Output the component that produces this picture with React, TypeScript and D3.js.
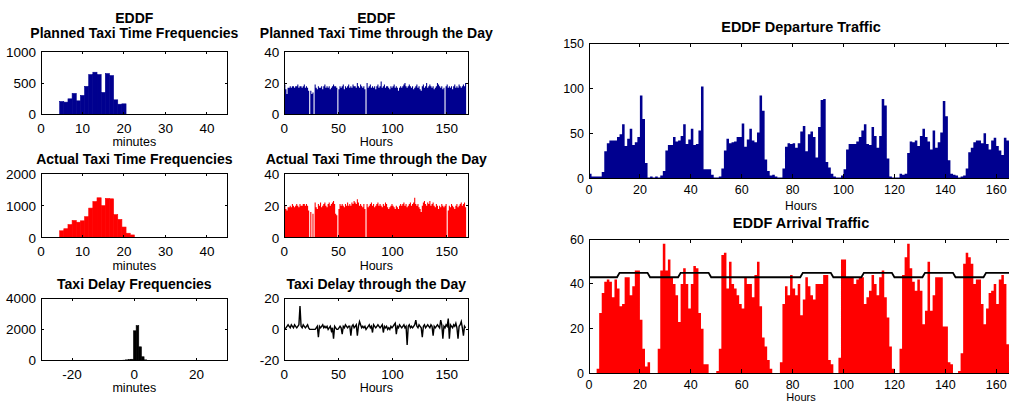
import React, { useRef, useEffect } from 'react';
import * as d3 from 'd3';

// ---------- data ----------
const plannedFreqBins = [5, 6, 7, 8, 9, 10, 11, 12, 13, 14, 15, 16, 17, 18, 19, 20];
const plannedFreq = [204, 194, 247, 333, 215, 301, 446, 634, 672, 634, 349, 650, 618, 231, 161, 167];

const actualFreqBins = [5, 6, 7, 8, 9, 10, 11, 12, 13, 14, 15, 16, 17, 18, 19, 20, 21, 22, 23];
const actualFreq = [215, 280, 409, 538, 484, 527, 656, 925, 1129, 1247, 1000, 1226, 1215, 720, 570, 333, 140, 86, 10];

const delayFreqBins = [-3.25, -2.4, -1.55, -0.7, 0.15, 1.0, 1.85, 2.7, 3.55, 4.4];
const delayFreq = [20, 40, 60, 80, 1910, 2240, 880, 240, 40, 10];

const plannedHourly = [
  19, 16, 13, 17, 17, 18, 17, 18, 18, 17, 18, 18, 19, 17, 18, 18, 17, 18, 19, 17, 18, 17, 15, 0,
  15, 13, 14, 0, 19, 17, 16, 18, 17, 17, 18, 16, 18, 19, 17, 18, 17, 18, 16, 17, 18, 19, 18, 18,
  17, 0, 16, 18, 17, 18, 19, 16, 18, 17, 18, 19, 17, 18, 17, 19, 18, 18, 17, 20, 18, 17, 19, 18,
  17, 18, 16, 0, 20, 17, 18, 19, 17, 18, 17, 18, 16, 18, 19, 17, 18, 21, 17, 18, 19, 17, 18, 18,
  17, 16, 18, 17, 18, 19, 17, 18, 17, 15, 17, 18, 17, 18, 19, 20, 18, 17, 18, 19, 18, 17, 18, 16,
  17, 18, 19, 17, 18, 16, 15, 18, 19, 17, 18, 20, 17, 18, 19, 18, 17, 18, 16, 17, 18, 20, 19, 18,
  17, 18, 16, 17, 0, 18, 19, 17, 18, 17, 18, 16, 18, 19, 17, 18, 17, 19, 18, 17, 18, 19, 18, 20,
];

const actualHourly = [
  20, 18, 17, 19, 19, 20, 19, 21, 20, 19, 20, 21, 20, 19, 21, 20, 20, 21, 21, 20, 21, 20, 17, 0,
  16, 0, 15, 0, 22, 19, 18, 21, 20, 22, 19, 20, 21, 22, 20, 19, 21, 22, 20, 21, 22, 23, 21, 15,
  14, 0, 18, 21, 20, 21, 20, 19, 21, 20, 22, 20, 21, 20, 22, 21, 23, 22, 21, 24, 22, 20, 21, 20,
  19, 21, 18, 0, 21, 19, 20, 21, 22, 20, 21, 19, 20, 21, 22, 20, 21, 20, 19, 21, 20, 22, 21, 19,
  18, 19, 20, 21, 20, 19, 18, 20, 19, 18, 20, 21, 20, 21, 22, 20, 21, 19, 20, 21, 22, 20, 21, 22,
  25, 21, 20, 21, 19, 18, 16, 20, 22, 23, 21, 20, 22, 21, 23, 20, 21, 22, 20, 19, 21, 20, 18, 20,
  19, 21, 20, 19, 20, 21, 0, 17, 20, 19, 21, 20, 19, 18, 20, 21, 19, 20, 21, 22, 20, 21, 22, 19,
];

const delayHourly = [
  0, 1, 2, 3, 2, 1, 3, 2, 1, 3, 2, 1, 2, 3, 15, 2, 1, 3, 2, 1, 2, 3, 1, 0,
  0, 0, 0, 0, 0, 1, 2, -5, 2, 1, 2, 3, 1, 2, 1, 2, 0, 1, 2, -1, 1, -6, 2, 1,
  0, 0, 1, 2, 1, -3, 2, 1, 3, 2, 1, 2, 2, -4, 2, 3, 1, 2, 3, -4, 2, 5, 3, 1,
  2, 1, 2, 0, 1, 2, 3, 1, 2, -2, 3, 2, 1, 2, 3, 2, 1, 2, 3, -2, 2, 1, 2, 0,
  1, 0, 2, 1, 2, 3, 4, -3, 2, 1, 3, 2, 1, 2, 3, 1, 2, -10, 2, 3, 1, 2, 1, 2,
  3, 6, 2, 1, 3, 2, 1, -5, 2, 3, 1, 2, 3, 2, 1, 3, 2, -4, 2, 1, 2, 3, 2, 1,
  6, 3, -6, 2, 1, 3, 2, 7, -6, 3, 2, 1, 3, 2, 4, 1, -6, 2, 3, 5, 1, -4, 2, 1,
];

const departures = [
  5, 2, 2, 2, 2, 7, 30, 39, 42, 42, 42, 46, 49, 60, 36, 44, 55, 37, 40, 46, 92, 66, 17, 1,
  2, 1, 2, 1, 3, 8, 31, 37, 37, 46, 41, 42, 47, 60, 38, 43, 55, 37, 38, 53, 102, 10, 10, 10,
  4, 1, 1, 2, 11, 31, 44, 39, 40, 41, 46, 46, 61, 35, 43, 55, 42, 40, 51, 92, 75, 21, 8, 3,
  4, 2, 1, 1, 11, 35, 39, 38, 39, 34, 39, 52, 58, 30, 49, 52, 46, 23, 57, 87, 88, 18, 12, 5,
  2, 1, 1, 3, 10, 32, 38, 38, 38, 41, 46, 53, 60, 38, 37, 57, 47, 34, 47, 88, 81, 22, 2, 1,
  1, 1, 5, 4, 5, 28, 41, 40, 42, 36, 47, 55, 46, 41, 32, 53, 34, 40, 51, 86, 69, 20, 5, 4,
  3, 1, 2, 3, 11, 29, 34, 40, 42, 42, 39, 50, 38, 32, 42, 45, 36, 31, 26, 45, 42, 40, 30, 12,
];

const arrivals = [
  0, 0, 0, 2, 27, 36, 41, 42, 41, 34, 42, 38, 30, 31, 43, 43, 35, 39, 46, 46, 24, 11, 3, 5,
  0, 0, 0, 11, 46, 58, 46, 51, 43, 40, 35, 23, 40, 47, 40, 29, 40, 48, 47, 27, 20, 4, 4, 0,
  0, 0, 1, 11, 53, 54, 38, 50, 40, 38, 35, 31, 29, 43, 40, 40, 34, 44, 50, 30, 16, 12, 6, 2,
  0, 0, 0, 5, 31, 39, 35, 44, 38, 35, 40, 26, 33, 43, 39, 35, 33, 40, 40, 40, 44, 44, 6, 4,
  0, 0, 7, 51, 51, 43, 43, 43, 40, 42, 43, 43, 31, 34, 37, 44, 40, 35, 43, 46, 34, 25, 12, 2,
  0, 0, 11, 44, 52, 58, 47, 41, 37, 42, 37, 22, 28, 50, 28, 35, 43, 43, 43, 21, 21, 5, 4, 0,
  0, 1, 9, 49, 54, 52, 49, 40, 42, 42, 31, 22, 29, 36, 37, 40, 31, 42, 44, 40, 13, 5, 0, 0,
];

// arrival capacity, one value per 12 hour block
const arrivalCapacity = [43, 45, 43, 45, 43, 43, 43, 45, 43, 45, 43, 45, 43, 45];

const freqTicks = [0, 10, 20, 30, 40];
const hourTicksSmall = [0, 50, 100, 150];
const hourTicksBig = [0, 20, 40, 60, 80, 100, 120, 140, 160];

const FONT = '"Liberation Sans", Arial, Helvetica, sans-serif';
const NAVY = '#00008f';
const RED = '#ff0000';

type Box = { l: number; r: number; t: number; b: number };

function scales(box: Box, xd: number[], yd: number[]) {
  const x = d3.scaleLinear().domain(xd).range([box.l, box.r]);
  const y = d3.scaleLinear().domain(yd).range([box.b, box.t]);
  return { x, y };
}

function frame(svg: any, box: Box, x: any, y: any, o: any) {
  const g = svg.append('g').attr('font-family', FONT);
  g.append('rect')
    .attr('x', box.l).attr('y', box.t)
    .attr('width', box.r - box.l).attr('height', box.b - box.t)
    .attr('fill', 'none').attr('stroke', '#000').attr('stroke-width', 1)
    .attr('shape-rendering', 'crispEdges');
  const tl = o.tickLen;
  o.xTicks.forEach((t: number) => {
    g.append('line').attr('x1', x(t)).attr('x2', x(t)).attr('y1', box.b).attr('y2', box.b - tl)
      .attr('stroke', '#000').attr('shape-rendering', 'crispEdges');
    g.append('line').attr('x1', x(t)).attr('x2', x(t)).attr('y1', box.t).attr('y2', box.t + tl)
      .attr('stroke', '#000').attr('shape-rendering', 'crispEdges');
    g.append('text').attr('x', x(t)).attr('y', box.b + o.xLabOff)
      .attr('text-anchor', 'middle').attr('font-size', o.tickFs).text(t);
  });
  o.yTicks.forEach((t: number) => {
    g.append('line').attr('x1', box.l).attr('x2', box.l + tl).attr('y1', y(t)).attr('y2', y(t))
      .attr('stroke', '#000').attr('shape-rendering', 'crispEdges');
    g.append('line').attr('x1', box.r).attr('x2', box.r - tl).attr('y1', y(t)).attr('y2', y(t))
      .attr('stroke', '#000').attr('shape-rendering', 'crispEdges');
    g.append('text').attr('x', box.l - 5).attr('y', y(t) + o.tickFs * 0.36)
      .attr('text-anchor', 'end').attr('font-size', o.tickFs).text(t);
  });
  const cx = o.cx ?? (box.l + box.r) / 2;
  o.titles.forEach((tt: [string, number]) => {
    g.append('text').attr('x', cx).attr('y', tt[1]).attr('text-anchor', 'middle')
      .attr('font-size', o.titleFs).attr('font-weight', 'bold').text(tt[0]);
  });
  g.append('text').attr('x', cx).attr('y', o.xlabY).attr('text-anchor', 'middle')
    .attr('font-size', o.labFs).text(o.xlab);
}

function histBars(svg: any, x: any, y: any, bins: number[], vals: number[], w: number, color: string) {
  svg.append('g').selectAll('rect').data(vals).join('rect')
    .attr('x', (d: number, i: number) => x(bins[i] - w / 2))
    .attr('width', (d: number, i: number) => x(bins[i] + w / 2) - x(bins[i] - w / 2))
    .attr('y', (d: number) => y(d))
    .attr('height', (d: number) => y(0) - y(d))
    .attr('fill', color)
    .attr('stroke', color)
    .attr('stroke-width', 0.6);
}

function hourBars(svg: any, x: any, y: any, vals: number[], color: string) {
  const pts = d3.range(vals.length + 1).map(i => [i, vals[Math.min(i, vals.length - 1)]]);
  const area = d3.area<number[]>()
    .x(d => x(d[0]))
    .y0(y(0))
    .y1(d => y(d[1]))
    .curve(d3.curveStepAfter);
  svg.append('path').datum(pts).attr('d', area).attr('fill', color);
}

const App = () => {
  const ref = useRef<SVGSVGElement>(null);

  useEffect(() => {
    const svg = d3.select(ref.current);
    svg.selectAll('*').remove();

    const leftOpts = { tickLen: 2.5, tickFs: 13.5, titleFs: 14, labFs: 12.5, xLabOff: 18.5 };

    // Planned taxi time frequencies
    const b1 = { l: 41, r: 227.7, t: 51.7, b: 114.3 };
    let s = scales(b1, [0, 45], [0, 1000]);
    histBars(svg, s.x, s.y, plannedFreqBins, plannedFreq, 1, NAVY);
    frame(svg, b1, s.x, s.y, {
      ...leftOpts, xTicks: freqTicks, yTicks: [0, 500, 1000],
      titles: [['EDDF', 22.7], ['Planned Taxi Time Frequencies', 37.7]], xlab: 'minutes', xlabY: 146.3,
    });

    // Planned taxi time through the day
    const b2 = { l: 284.3, r: 468.3, t: 51.7, b: 114.3 };
    s = scales(b2, [0, 170], [0, 40]);
    hourBars(svg, s.x, s.y, plannedHourly, NAVY);
    frame(svg, b2, s.x, s.y, {
      ...leftOpts, xTicks: hourTicksSmall, yTicks: [0, 20, 40],
      titles: [['EDDF', 22.7], ['Planned Taxi Time through the Day', 37.7]], xlab: 'Hours', xlabY: 146.3,
    });

    // Actual taxi time frequencies
    const b3 = { l: 41, r: 227.7, t: 173.7, b: 237.7 };
    s = scales(b3, [0, 45], [0, 2000]);
    histBars(svg, s.x, s.y, actualFreqBins, actualFreq, 1, RED);
    frame(svg, b3, s.x, s.y, {
      ...leftOpts, xTicks: freqTicks, yTicks: [0, 1000, 2000],
      titles: [['Actual Taxi Time Frequencies', 164]], xlab: 'minutes', xlabY: 270,
    });

    // Actual taxi time through the day
    const b4 = { l: 284.3, r: 468.3, t: 173.7, b: 237.7 };
    s = scales(b4, [0, 170], [0, 40]);
    hourBars(svg, s.x, s.y, actualHourly, RED);
    frame(svg, b4, s.x, s.y, {
      ...leftOpts, xTicks: hourTicksSmall, yTicks: [0, 20, 40],
      titles: [['Actual Taxi Time through the Day', 164]], xlab: 'Hours', xlabY: 269.5,
    });

    // Taxi delay frequencies
    const b5 = { l: 41, r: 227.7, t: 298.3, b: 360.5 };
    s = scales(b5, [-30, 30], [0, 4000]);
    histBars(svg, s.x, s.y, delayFreqBins, delayFreq, 0.85, '#000');
    frame(svg, b5, s.x, s.y, {
      ...leftOpts, xTicks: [-20, 0, 20], yTicks: [0, 2000, 4000],
      titles: [['Taxi Delay Frequencies', 288.5]], xlab: 'minutes', xlabY: 391.7,
    });

    // Taxi delay through the day
    const b6 = { l: 284.3, r: 468.3, t: 298.3, b: 360.5 };
    s = scales(b6, [0, 170], [-20, 20]);
    const line = d3.line<number>().x((d, i) => s.x(i + 0.5)).y(d => s.y(d));
    svg.append('path').datum(delayHourly).attr('d', line)
      .attr('fill', 'none').attr('stroke', '#000').attr('stroke-width', 1.4);
    frame(svg, b6, s.x, s.y, {
      ...leftOpts, xTicks: hourTicksSmall, yTicks: [-20, 0, 20],
      titles: [['Taxi Delay through the Day', 288.5]], xlab: 'Hours', xlabY: 392,
    });

    const rightOpts = { tickLen: 4, tickFs: 12.5, titleFs: 14.5, labFs: 12, xLabOff: 15.5, cx: 801 };

    // Departure traffic
    const r1 = { l: 589, r: 1016.6, t: 43.3, b: 178.3 };
    s = scales(r1, [0, 168], [0, 150]);
    hourBars(svg, s.x, s.y, departures, NAVY);
    frame(svg, r1, s.x, s.y, {
      ...rightOpts, xTicks: hourTicksBig, yTicks: [0, 50, 100, 150],
      titles: [['EDDF Departure Traffic', 32.3]], xlab: 'Hours', xlabY: 209.5,
    });

    // Arrival traffic with capacity line
    const r2 = { l: 589, r: 1016.6, t: 239.3, b: 373.3 };
    s = scales(r2, [0, 168], [0, 60]);
    hourBars(svg, s.x, s.y, arrivals, RED);
    const cap = d3.range(169).map(i => [i, arrivalCapacity[Math.min(Math.floor(i / 12), arrivalCapacity.length - 1)]]);
    const capLine = d3.line<number[]>().x(d => s.x(d[0])).y(d => s.y(d[1]));
    svg.append('path').datum(cap).attr('d', capLine)
      .attr('fill', 'none').attr('stroke', '#000').attr('stroke-width', 1.8);
    frame(svg, r2, s.x, s.y, {
      ...rightOpts, labFs: 11, xTicks: hourTicksBig, yTicks: [0, 20, 40, 60],
      titles: [['EDDF Arrival Traffic', 228.3]], xlab: 'Hours', xlabY: 401,
    });
  }, []);

  return (
    <svg
      ref={ref}
      width={1009}
      height={403}
      style={{ position: 'absolute', left: 0, top: 0, background: '#fff' }}
    />
  );
};

export default App;
